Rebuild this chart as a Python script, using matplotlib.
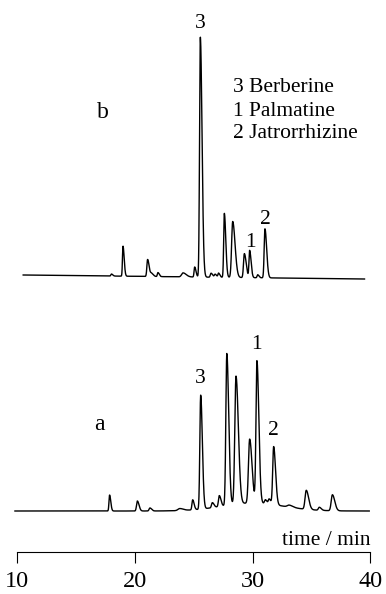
import numpy as np
import matplotlib
matplotlib.use('Agg')
import matplotlib.pyplot as plt

plt.rcParams['font.family'] = ['Liberation Serif', 'DejaVu Serif']

# peak tables: retention time (min), height, width (min)
a_time = [17.84, 20.2, 21.27, 23.8, 24.9, 25.58, 26.57, 27.16, 27.8, 28.58,
          29.74, 30.36, 31.07, 31.4, 31.78, 33.1, 34.55, 35.66, 36.77]
a_height = [16, 10, 3, 2, 10, 114, 5, 11, 152, 128,
            64, 142, 4, 5, 58, 2, 19, 3, 16]
a_width = [0.05, 0.07, 0.07, 0.15, 0.06, 0.07, 0.07, 0.07, 0.08, 0.1,
           0.1, 0.08, 0.07, 0.07, 0.08, 0.15, 0.1, 0.08, 0.1]

b_time = [18.0, 18.98, 21.07, 21.4, 21.95, 24.08, 25.07, 25.55, 26.46, 26.8,
          27.1, 27.59, 28.3, 29.29, 29.74, 30.42, 31.04]
b_height = [2, 30, 17, 3, 4, 4, 10, 240, 4, 3,
            4, 64, 56, 24, 27, 3, 49]
b_width = [0.05, 0.045, 0.06, 0.07, 0.05, 0.12, 0.05, 0.065, 0.06, 0.06,
           0.05, 0.055, 0.09, 0.07, 0.055, 0.05, 0.065]

a_labels = [('3', 25.58), ('1', 30.36), ('2', 31.78)]
b_labels = [('3', 25.55), ('1', 29.82), ('2', 31.1)]
compounds = ['3 Berberine', '1 Palmatine', '2 Jatrorrhizine']

a_offset = 83
b_offset = 319


def chrom(t, times, heights, widths, tail=2.0):
    y = np.zeros_like(t)
    for t0, h, w in zip(times, heights, widths):
        s = np.where(t < t0, w, w * tail)
        y += h * np.exp(-0.5 * ((t - t0) / s) ** 2)
    return y


ta = np.linspace(9.8, 39.9, 4000)
ya = chrom(ta, a_time, a_height, a_width)
ya += 8 * np.exp(-0.5 * ((ta - 30.0) / 2.6) ** 2)  # raised baseline under the cluster
ya += a_offset

tb = np.linspace(10.5, 39.5, 4000)
yb = chrom(tb, b_time, b_height, b_width, tail=2.2)
yb += -4 * (tb - 10.5) / 29.0  # slight baseline drift
yb += b_offset

fig = plt.figure(figsize=(3.86, 5.94), dpi=100)
ax = fig.add_axes([0, 0, 1, 1])
x_px = lambda px: 10 + (px - 17.3) / 11.77
ax.set_xlim(x_px(0), x_px(386))
ax.set_ylim(0, 594)

ax.plot(ta, ya, color='black', lw=1.0)
ax.plot(tb, yb, color='black', lw=1.0)

for s in ['top', 'left', 'right']:
    ax.spines[s].set_visible(False)
ax.spines['bottom'].set_position(('data', 42.3))
ax.spines['bottom'].set_bounds(10, 40)
ax.spines['bottom'].set_linewidth(0.8)
ax.set_yticks([])
ax.set_xticks([10, 20, 30, 40])
ax.tick_params(axis='x', direction='out', length=8, width=0.8, pad=6, labelsize=17.5)

ax.text(40, 49, 'time / min', ha='right', va='baseline', fontsize=15.5)

for lab, t0 in a_labels:
    top = ya[np.argmin(np.abs(ta - t0))]
    ax.text(t0, top + 7, lab, ha='center', va='bottom', fontsize=15.5)
for lab, t0 in b_labels:
    top = yb[np.argmin(np.abs(tb - t0))]
    ax.text(t0, top + 4, lab, ha='center', va='bottom', fontsize=15.5)

ax.text(17.0, 169, 'a', ha='center', va='center', fontsize=17)
ax.text(17.28, 482, 'b', ha='center', va='center', fontsize=17)
for i, c in enumerate(compounds):
    ax.text(28.34, 506 - 23 * i, c, ha='left', va='center', fontsize=15.5)

fig.savefig('out.png', dpi=100)
